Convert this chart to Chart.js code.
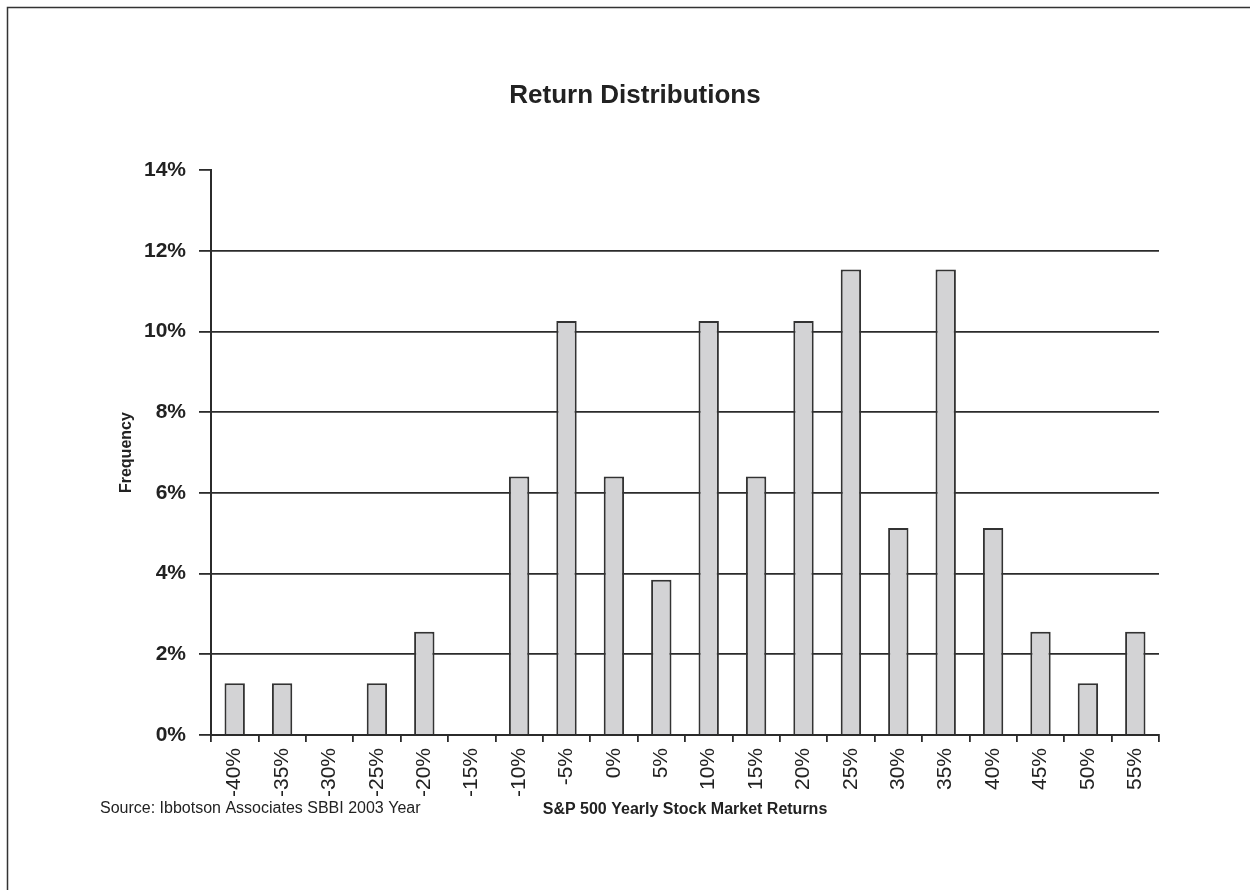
<!DOCTYPE html>
<html>
<head>
<meta charset="utf-8">
<script src="https://cdn.jsdelivr.net/npm/chart.js@4.4.1/dist/chart.umd.min.js"></script>
<style>
  body { margin: 0; background: #fff; }
  canvas { display: block; }
</style>
</head>
<body>
<canvas id="myChart" width="1250" height="890"></canvas>
<script>
// S&P 500 yearly returns, share of years falling in each 5% bucket
var returnBuckets = ['-40%', '-35%', '-30%', '-25%', '-20%', '-15%', '-10%', '-5%', '0%', '5%',
                     '10%', '15%', '20%', '25%', '30%', '35%', '40%', '45%', '50%', '55%'];
var frequency = [1.28, 1.28, 0, 1.28, 2.56, 0, 6.41, 10.26, 6.41, 3.85,
                 10.26, 6.41, 10.26, 11.54, 5.13, 11.54, 5.13, 2.56, 1.28, 2.56];
var yTicks = [0, 2, 4, 6, 8, 10, 12, 14];

var fontFamily = "'Liberation Sans', Arial, sans-serif";
var ink = '#2b2b2b';

var extras = {
    id: 'extras',
    afterDraw: function(chart) {
        var c = chart.ctx;
        c.save();
        c.fillStyle = '#222';
        c.font = '16px ' + fontFamily;
        c.textBaseline = 'middle';
        c.textAlign = 'left';
        c.fillText('Source: Ibbotson Associates SBBI 2003 Year', 100, 809);
        c.strokeStyle = '#333';
        c.lineWidth = 1.5;
        c.strokeRect(7.5, 7.5, 1300, 1000);
        c.restore();
    }
};

var ctx = document.getElementById('myChart').getContext('2d');
var myChart = new Chart(ctx, {
    type: 'bar',
    data: {
        labels: returnBuckets,
        datasets: [{
            label: 'Frequency',
            data: frequency,
            backgroundColor: '#d3d3d5',
            borderColor: '#333333',
            borderWidth: 2,
            categoryPercentage: 1,
            barPercentage: 0.43
        }]
    },
    options: {
        responsive: false,
        animation: false,
        layout: { padding: { left: 111, right: 91, top: 0, bottom: 67 } },
        plugins: {
            legend: { display: false },
            tooltip: { enabled: false },
            title: {
                display: true,
                text: 'Return Distributions',
                color: '#222',
                font: { family: fontFamily, size: 26, weight: 'bold' },
                padding: { top: 80, bottom: 59 }
            }
        },
        scales: {
            x: {
                afterFit: function(scale) { scale.height = 88; },
                border: { color: ink, width: 2 },
                grid: {
                    offset: true,
                    drawOnChartArea: false,
                    tickLength: 7,
                    color: ink,
                    lineWidth: 1.8
                },
                ticks: {
                    autoSkip: false,
                    maxRotation: 90,
                    minRotation: 90,
                    padding: 6,
                    color: '#222',
                    font: { family: fontFamily, size: 21 }
                },
                title: {
                    display: true,
                    text: 'S&P 500 Yearly Stock Market Returns',
                    color: '#222',
                    font: { family: fontFamily, size: 16, weight: 'bold' },
                    padding: { top: 4, bottom: 4 }
                }
            },
            y: {
                min: 0,
                max: 14,
                afterFit: function(scale) { scale.width = 100; },
                afterBuildTicks: function(scale) {
                    scale.ticks = yTicks.map(function(v) { return { value: v }; });
                },
                border: { color: ink, width: 2 },
                grid: {
                    tickLength: 12,
                    lineWidth: 1.8,
                    color: function(c) { return c.tick && c.tick.value === 14 ? 'rgba(0,0,0,0)' : ink; },
                    tickColor: ink
                },
                ticks: {
                    padding: 13,
                    color: '#222',
                    font: { family: fontFamily, size: 21, weight: 'bold' },
                    callback: function(v) { return v + '%'; }
                },
                title: {
                    display: true,
                    text: 'Frequency',
                    color: '#222',
                    font: { family: fontFamily, size: 16, weight: 'bold' },
                    padding: { top: 6, bottom: 4 }
                }
            }
        }
    },
    plugins: [extras]
});
</script>
</body>
</html>
